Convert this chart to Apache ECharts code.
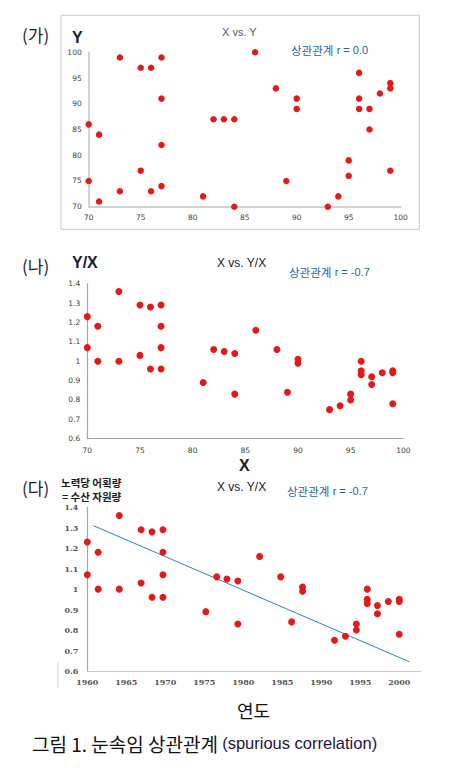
<!DOCTYPE html>
<html><head><meta charset="utf-8">
<script src="https://cdn.jsdelivr.net/npm/echarts@6/dist/echarts.min.js"></script>
<style>html,body{margin:0;padding:0;background:#fff;}#c{width:470px;height:772px;}</style>
</head><body><div id="c"></div>
<script>
// Panel (가): X vs Y
const xVals = [70,71,73,75,76,77,77,77,70,71,73,75,76,77,81,82,83,84,84,86,88,90,90,89,93,94,95,95,96,96,96,97,97,98,99,99,99];
const yVals = [86,84,99,97,97,99,91,82,75,71,73,77,73,74,72,87,87,87,70,100,93,91,89,75,70,72,76,79,96,91,89,89,85,92,94,93,77];
// Panel (나)/(다): Y/X values
const ratioVals = [1.23,1.18,1.36,1.29,1.28,1.29,1.18,1.07,1.07,1.00,1.00,1.03,0.96,0.96,0.89,1.06,1.05,1.04,0.83,1.16,1.06,1.01,0.99,0.84,0.75,0.77,0.80,0.83,1.00,0.95,0.93,0.92,0.88,0.94,0.95,0.94,0.78];
// Panel (다): years
const yearVals = [1960,1961.4,1964.1,1966.9,1968.3,1969.7,1969.7,1969.7,1960,1961.4,1964.1,1966.9,1968.3,1969.7,1975.2,1976.6,1977.9,1979.3,1979.3,1982.1,1984.8,1987.6,1987.6,1986.2,1991.7,1993.1,1994.5,1994.5,1995.9,1995.9,1995.9,1997.2,1997.2,1998.6,2000,2000,2000];
// Trend line endpoints in panel (다)
const trendYears = [1960.8, 2001.3];
const trendVals = [1.31, 0.645];

const pair = (a,b) => a.map((v,i)=>[v,b[i]]);
const red = '#e3191a';
const lblSans = {fontFamily:'DejaVu Sans', fontSize:7.5, color:'#404040'};
const lblSerif = {fontFamily:'DejaVu Serif', fontSize:8, fontWeight:'bold', color:'#555', formatter: v => String(v)};
const kr = 'Noto Sans CJK KR';

const chart = echarts.init(document.getElementById('c'), null, {renderer:'svg'});

function txt(x,y,text,style){
  return {type:'text', x:x, y:y, style:Object.assign({text:text, fill:'#1c1c3c', fontFamily:kr, fontSize:12, align:'left', verticalAlign:'middle'}, style)};
}
function note(x,y,val){
  return {type:'text', x:x, y:y, style:{align:'left', verticalAlign:'middle',
    rich:{k:{fontFamily:kr, fontSize:11.5, fill:'#2662aa'}, l:{fontFamily:'Liberation Sans', fontSize:11, fill:'#2662aa'}},
    text:'{k|상관관계} {l|' + val + '}'}};
}

chart.setOption({
  animation:false,
  grid:[
    {left:88.7, top:52.3, width:312, height:154.4},
    {left:87.3, top:283.7, width:316, height:155},
    {left:87.3, top:507.3, width:333.4, height:163.7}
  ],
  xAxis:[
    {gridIndex:0, type:'value', min:70, max:100, interval:5, splitLine:{show:false},
     axisLine:{lineStyle:{color:'#c4c4c4', width:1.5}}, axisTick:{show:false}, axisLabel:Object.assign({margin:7}, lblSans)},
    {gridIndex:1, type:'value', min:70, max:100, interval:5, splitLine:{show:false},
     axisLine:{lineStyle:{color:'#a6a6a6', width:1.2}}, axisTick:{show:false}, axisLabel:Object.assign({margin:8}, lblSans)},
    {gridIndex:2, type:'value', min:1960, max:2002.75, interval:5, splitLine:{show:false},
     axisLine:{lineStyle:{color:'#c8c8c8', width:1.2}}, axisTick:{show:false}, axisLabel:Object.assign({margin:7, showMaxLabel:false}, lblSerif)}
  ],
  yAxis:[
    {gridIndex:0, type:'value', min:70, max:100, interval:5, splitLine:{show:false},
     axisLine:{show:true, lineStyle:{color:'#c4c4c4', width:1.5}}, axisTick:{show:false}, axisLabel:Object.assign({margin:7}, lblSans)},
    {gridIndex:1, type:'value', min:0.6, max:1.4, interval:0.1, splitLine:{show:false},
     axisLine:{show:true, lineStyle:{color:'#a6a6a6', width:1.2}}, axisTick:{show:false}, axisLabel:Object.assign({margin:7}, lblSans)},
    {gridIndex:2, type:'value', min:0.6, max:1.4, interval:0.1, splitLine:{show:false},
     axisLine:{show:true, lineStyle:{color:'#a6a6a6', width:1.2}}, axisTick:{show:false}, axisLabel:Object.assign({margin:9}, lblSerif, {formatter:null})}
  ],
  series:[
    {type:'scatter', xAxisIndex:0, yAxisIndex:0, data:pair(xVals,yVals), symbolSize:6.5, itemStyle:{color:red, opacity:1}},
    {type:'scatter', xAxisIndex:1, yAxisIndex:1, data:pair(xVals,ratioVals), symbolSize:7, itemStyle:{color:red, opacity:1}},
    {type:'scatter', xAxisIndex:2, yAxisIndex:2, data:pair(yearVals,ratioVals), symbolSize:7, itemStyle:{color:red, opacity:1}, z:3},
    {type:'line', xAxisIndex:2, yAxisIndex:2, data:pair(trendYears,trendVals), symbol:'none', lineStyle:{color:'#2a7fd4', width:1}, z:2}
  ],
  graphic:[
    {type:'rect', shape:{x:61, y:15.3, width:358.3, height:214}, style:{fill:'none', stroke:'#c8c8c8', lineWidth:1}},
    {type:'line', shape:{x1:58, y1:662, x2:58, y2:688}, style:{stroke:'#d4d4d4', lineWidth:1}},
    // panel labels
    txt(22,34,'(가)',{fontSize:17}),
    txt(22,265,'(나)',{fontSize:17}),
    txt(22,487,'(다)',{fontSize:17}),
    // axis names
    txt(72,37,'Y',{fontFamily:'Liberation Sans', fontSize:16, fontWeight:'bold', fill:'#1a1a30'}),
    txt(72,262,'Y/X',{fontFamily:'Liberation Sans', fontSize:16, fontWeight:'bold', fill:'#1a1a30'}),
    txt(239,465,'X',{fontFamily:'Liberation Sans', fontSize:16, fontWeight:'bold', fill:'#1a1a30'}),
    txt(61,482,'노력당 어획량',{fontSize:10.5, fontWeight:'bold', fill:'#1a1a1a'}),
    txt(62,496,'= 수산 자원량',{fontSize:10.5, fontWeight:'bold', fill:'#1a1a1a'}),
    txt(237,710,'연도',{fontSize:18, fill:'#111'}),
    // titles
    txt(222,32,'X vs. Y',{fontFamily:'Liberation Sans', fontSize:11, fill:'#595959'}),
    txt(217,263,'X vs. Y/X',{fontFamily:'Liberation Sans', fontSize:12, fill:'#1a1a1a'}),
    txt(217,487,'X vs. Y/X',{fontFamily:'Liberation Sans', fontSize:12, fill:'#1a1a1a'}),
    // correlation notes
    note(291,50,'r = 0.0'),
    note(289,272,'r = -0.7'),
    note(287,491,'r = -0.7'),
    // caption
    {type:'text', x:32, y:743, style:{align:'left', verticalAlign:'middle',
      rich:{k:{fontFamily:kr, fontSize:19, fill:'#111'}, l:{fontFamily:'Liberation Sans', fontSize:16.5, fill:'#1e1446'}},
      text:'{k|그림 1. 눈속임 상관관계 }{l|(spurious correlation)}'}}
  ]
});
</script></body></html>
